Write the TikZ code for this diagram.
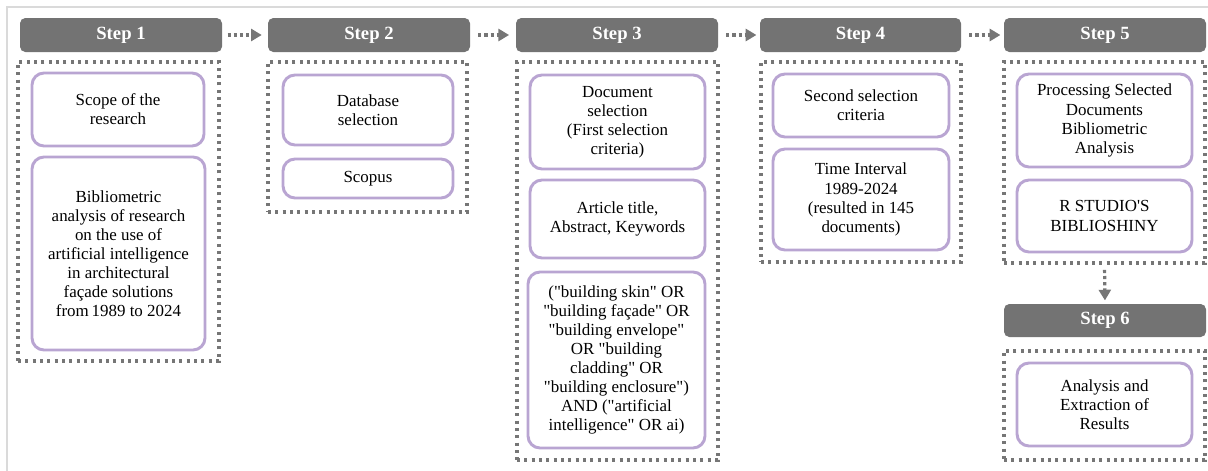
\documentclass[tikz,border=0pt]{standalone}
\usepackage{fontspec}
\setmainfont{Liberation Serif}[Ligatures=TeXOff]
\usetikzlibrary{arrows.meta}
\definecolor{hdr}{HTML}{737373}
\definecolor{dotc}{HTML}{767676}
\definecolor{lav}{HTML}{B9A5D2}
\definecolor{framec}{HTML}{DADADA}
\newcommand\placebox[7]{%
  \node[#1, minimum width={(#5-#3)*0.75pt}, minimum height={(#6-#4)*0.75pt}]
    (#2) at ({(#3+#5)/2},{(#4+#6)/2}) {#7};}
\tikzset{
  hdrbox/.style={fill=hdr, rounded corners=4pt, text=white, inner sep=0pt,
    font=\fontsize{14}{16}\selectfont\bfseries},
  grp/.style={draw=dotc, line width=2.3pt, dash pattern=on 2.3pt off 3.2pt, inner sep=0pt},
  item/.style={draw=lav, line width=2.2pt, rounded corners=9pt, fill=white,
    align=center, inner sep=0pt, font=\fontsize{12.7}{14.3}\selectfont},
  flow/.style={draw=dotc, line width=2.4pt, dash pattern=on 2.4pt off 2.2pt,
    -{Triangle[length=8pt,width=9pt]}}
}
\begin{document}
\begin{tikzpicture}[x=0.75pt,y=-0.75pt]
\useasboundingbox (0,0) rectangle (1208,471);
\draw[framec, line width=1pt] (7,471) -- (7,7) -- (1208,7);
% headers
\placebox{hdrbox}{h1}{20}{18}{222}{52}{Step 1}
\placebox{hdrbox}{h2}{268}{18}{470}{52}{Step 2}
\placebox{hdrbox}{h3}{516}{18}{718}{52}{Step 3}
\placebox{hdrbox}{h4}{760}{18}{961}{52}{Step 4}
\placebox{hdrbox}{h5}{1004}{18}{1206}{52}{Step 5}
\placebox{hdrbox}{h6}{1004}{304}{1206}{337}{Step 6}
% groups
\placebox{grp}{g1}{18}{62}{219}{361}{}
\placebox{grp}{g2}{268}{62}{467}{212}{}
\placebox{grp}{g3}{517}{62}{718}{460}{}
\placebox{grp}{g4}{761}{62}{961}{262}{}
\placebox{grp}{g5}{1004}{62}{1205}{263}{}
\placebox{grp}{g6}{1004}{351}{1205}{460}{}
% items
\placebox{item}{i1a}{32}{73}{204}{146}{Scope of the\\research}
\placebox{item}{i1b}{32}{157}{205}{350}{Bibliometric\\analysis of research\\on the use of\\artificial intelligence\\in architectural\\façade solutions\\from\,1989 to 2024}
\placebox{item}{i2a}{283}{75}{453}{145}{Database\\selection}
\placebox{item}{i2b}{283}{159}{453}{198}{Scopus}
\placebox{item}{i3a}{530}{75}{705}{169}{Document\\selection\\(First selection\\criteria)}
\placebox{item}{i3b}{530}{180}{705}{258}{Article title,\\Abstract, Keywords}
\placebox{item}{i3c}{528}{272}{705}{448}{("building skin" OR\\"building façade" OR\\"building envelope"\\OR "building\\cladding" OR\\"building enclosure")\\AND ("artificial\\intelligence" OR ai)}
\placebox{item}{i4a}{773}{74}{949}{137}{Second selection\\criteria}
\placebox{item}{i4b}{773}{149}{949}{250}{Time Interval\\1989-2024\\(resulted in 145\\documents)}
\placebox{item}{i5a}{1017}{74}{1192}{167}{Processing Selected\\Documents\\Bibliometric\\Analysis}
\placebox{item}{i5b}{1017}{180}{1192}{252}{R STUDIO'S\\BIBLIOSHINY}
\placebox{item}{i6}{1017}{363}{1192}{446}{Analysis and\\Extraction of\\Results}
% connectors
\draw[flow, shorten <=4pt, shorten >=4.5pt] (h1) -- (h2);
\draw[flow, shorten <=6pt, shorten >=5pt] (h2) -- (h3);
\draw[flow, shorten <=6pt, shorten >=2.5pt] (h3) -- (h4);
\draw[flow, shorten <=6pt, shorten >=2.5pt] (h4) -- (h5);
\draw[flow, shorten <=4pt, shorten >=2.5pt] (g5.south) -- (h6.north);
\end{tikzpicture}
\end{document}
